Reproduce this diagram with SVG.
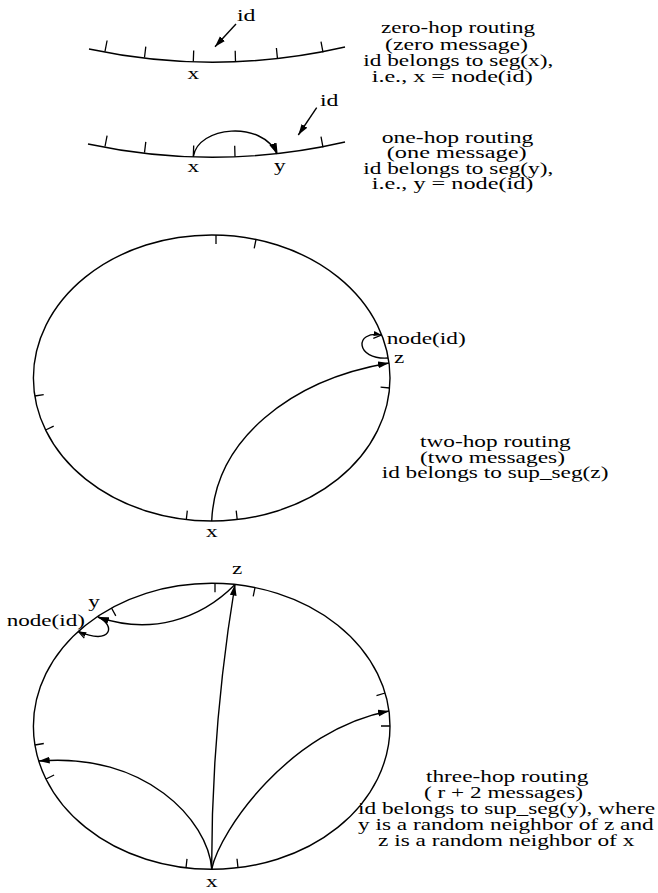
<svg xmlns="http://www.w3.org/2000/svg" width="658" height="893" viewBox="0 0 658 893">
<defs>
<style>
.t{font-family:"Liberation Serif","Times New Roman",serif;font-size:17.5px;fill:#000}
.ring{fill:none;stroke:#000;stroke-width:1.4}
.tick{stroke:#000;stroke-width:1.3;fill:none}
.conn{fill:none;stroke:#000;stroke-width:1.4}
</style>
<marker id="ah" markerUnits="userSpaceOnUse" markerWidth="12" markerHeight="8" refX="11" refY="4" orient="auto"><path d="M0,0.6 L11,4 L0,7.4 z" fill="#000"/></marker>
<marker id="ahs" markerUnits="userSpaceOnUse" markerWidth="9" markerHeight="6" refX="8" refY="3" orient="auto"><path d="M0,0.5 L8,3 L0,5.5 z" fill="#000"/></marker>
</defs>
<rect width="658" height="893" fill="#fff"/>

<g id="zero-hop">
<path class="ring" d="M89,49 A592,592 0 0 0 345,47"/>
<path class="tick" d="M105,51.3 L107.1,40.5 M144.5,57.5 L145.8,46.6 M193.3,61.5 L193.7,50.5 M235.5,61.7 L235.2,50.7 M277.5,58.9 L276.4,48 M323,52.4 L321,41.6"/>
<text class="t" x="187.5" y="79" textLength="11.6" lengthAdjust="spacingAndGlyphs">x</text>
<text class="t" x="237" y="21" textLength="18.5" lengthAdjust="spacingAndGlyphs">id</text>
</g>
<g id="zero-hop-caption">
<text class="t" x="381" y="32.5" textLength="154" lengthAdjust="spacingAndGlyphs">zero-hop routing</text>
<text class="t" x="385" y="49.5" textLength="143" lengthAdjust="spacingAndGlyphs">(zero message)</text>
<text class="t" x="363.3" y="65.5" textLength="190" lengthAdjust="spacingAndGlyphs">id belongs to seg(x),</text>
<text class="t" x="371.7" y="81.5" textLength="161" lengthAdjust="spacingAndGlyphs">i.e., x = node(id)</text>
</g>

<g id="one-hop">
<path class="ring" d="M88,144 A592,592 0 0 0 345,142"/>
<path class="tick" d="M105,146.5 L107.1,135.7 M144.5,152.7 L145.8,141.8 M193.3,156.6 L193.7,145.6 M235,156.8 L234.7,145.8 M277,154 L275.9,143.1 M323,147.4 L321,136.6"/>
<text class="t" x="187.5" y="172.3" textLength="11.6" lengthAdjust="spacingAndGlyphs">x</text>
<text class="t" x="273.9" y="171" textLength="11.6" lengthAdjust="spacingAndGlyphs">y</text>
<text class="t" x="320" y="106" textLength="18.5" lengthAdjust="spacingAndGlyphs">id</text>
</g>
<g id="one-hop-caption">
<text class="t" x="381.7" y="142.5" textLength="151.7" lengthAdjust="spacingAndGlyphs">one-hop routing</text>
<text class="t" x="386.7" y="158" textLength="140" lengthAdjust="spacingAndGlyphs">(one message)</text>
<text class="t" x="363.3" y="173.5" textLength="190" lengthAdjust="spacingAndGlyphs">id belongs to seg(y),</text>
<text class="t" x="371.7" y="189" textLength="161.7" lengthAdjust="spacingAndGlyphs">i.e., y = node(id)</text>
</g>

<g id="two-hop">
<ellipse class="ring" cx="211.7" cy="378" rx="178.3" ry="143"/>
<path class="tick" d="M216,235 L216,244 M256,239.5 L254.2,248.3 M34.8,396 L43.7,394.6 M45.6,430 L53.7,426.1 M186.3,519.5 L187.3,510.6 M237.2,519.5 L236.2,510.6 M381.7,335 L373.3,338.3 M389.6,388 L380.6,387.2"/>
<text class="t" x="386.7" y="344" textLength="79" lengthAdjust="spacingAndGlyphs">node(id)</text>
<text class="t" x="394" y="362.5" textLength="10.3" lengthAdjust="spacingAndGlyphs">z</text>
<text class="t" x="205.9" y="536.7" textLength="11.6" lengthAdjust="spacingAndGlyphs">x</text>
</g>
<g id="two-hop-caption">
<text class="t" x="420" y="447.3" textLength="150.7" lengthAdjust="spacingAndGlyphs">two-hop routing</text>
<text class="t" x="420" y="462.7" textLength="145" lengthAdjust="spacingAndGlyphs">(two messages)</text>
<text class="t" x="381.7" y="478" textLength="226.7" lengthAdjust="spacingAndGlyphs">id belongs to sup_seg(z)</text>
</g>

<g id="three-hop">
<ellipse class="ring" cx="211.7" cy="726.3" rx="178.3" ry="143"/>
<path class="tick" d="M215,583.3 L215,592.3 M255,587.6 L253.2,596.4 M385.1,693 L376.5,695.6 M390,726 L381,726 M34.9,745 L43.8,743.5 M46,779 L54.1,775 M186,867.8 L187,858.9 M238,867.7 L237,858.8 M111.5,608 L115.8,615.9 M78.3,631.4 L84.3,638.1"/>
<text class="t" x="232.1" y="574" textLength="10.3" lengthAdjust="spacingAndGlyphs">z</text>
<text class="t" x="88.2" y="607" textLength="11.6" lengthAdjust="spacingAndGlyphs">y</text>
<text class="t" x="6.7" y="626" textLength="78.3" lengthAdjust="spacingAndGlyphs">node(id)</text>
<text class="t" x="205.9" y="886.7" textLength="11.6" lengthAdjust="spacingAndGlyphs">x</text>
</g>
<g id="three-hop-caption">
<text class="t" x="426" y="781.5" textLength="162.3" lengthAdjust="spacingAndGlyphs">three-hop routing</text>
<text class="t" x="424" y="797.5" textLength="159" lengthAdjust="spacingAndGlyphs">( r + 2 messages)</text>
<text class="t" x="358" y="813.5" textLength="297" lengthAdjust="spacingAndGlyphs">id belongs to sup_seg(y), where</text>
<text class="t" x="358" y="829.5" textLength="295.7" lengthAdjust="spacingAndGlyphs">y is a random neighbor of z and</text>
<text class="t" x="378" y="845.5" textLength="256.3" lengthAdjust="spacingAndGlyphs">z is a random neighbor of x</text>
</g>

<g id="connectors">
<path class="conn" d="M236,24 L215,46.7" marker-end="url(#ah)"/>
<path class="conn" d="M316.7,107.7 L298.3,135" marker-end="url(#ah)"/>
<path class="conn" d="M193.3,156.6 C198,126 262,120 277,154" marker-end="url(#ah)"/>
<path class="conn" d="M211.7,521 C215,440 290,380 389,363" marker-end="url(#ah)"/>
<path class="conn" d="M388,358 C355,360 354,330 381.7,335" marker-end="url(#ahs)"/>
<path class="conn" d="M211.7,869 C211.5,790 216,700 235,584.5" marker-end="url(#ah)"/>
<path class="conn" d="M211.7,869 C208,820 145,752 38.7,761" marker-end="url(#ah)"/>
<path class="conn" d="M211.7,869 C220,830 290,730 389,711" marker-end="url(#ah)"/>
<path class="conn" d="M235,584.5 C200,620 150,635 98,617" marker-end="url(#ah)"/>
<path class="conn" d="M98,617 C116,625 112,646 78.3,631.4" marker-end="url(#ahs)"/>
</g>
</svg>
